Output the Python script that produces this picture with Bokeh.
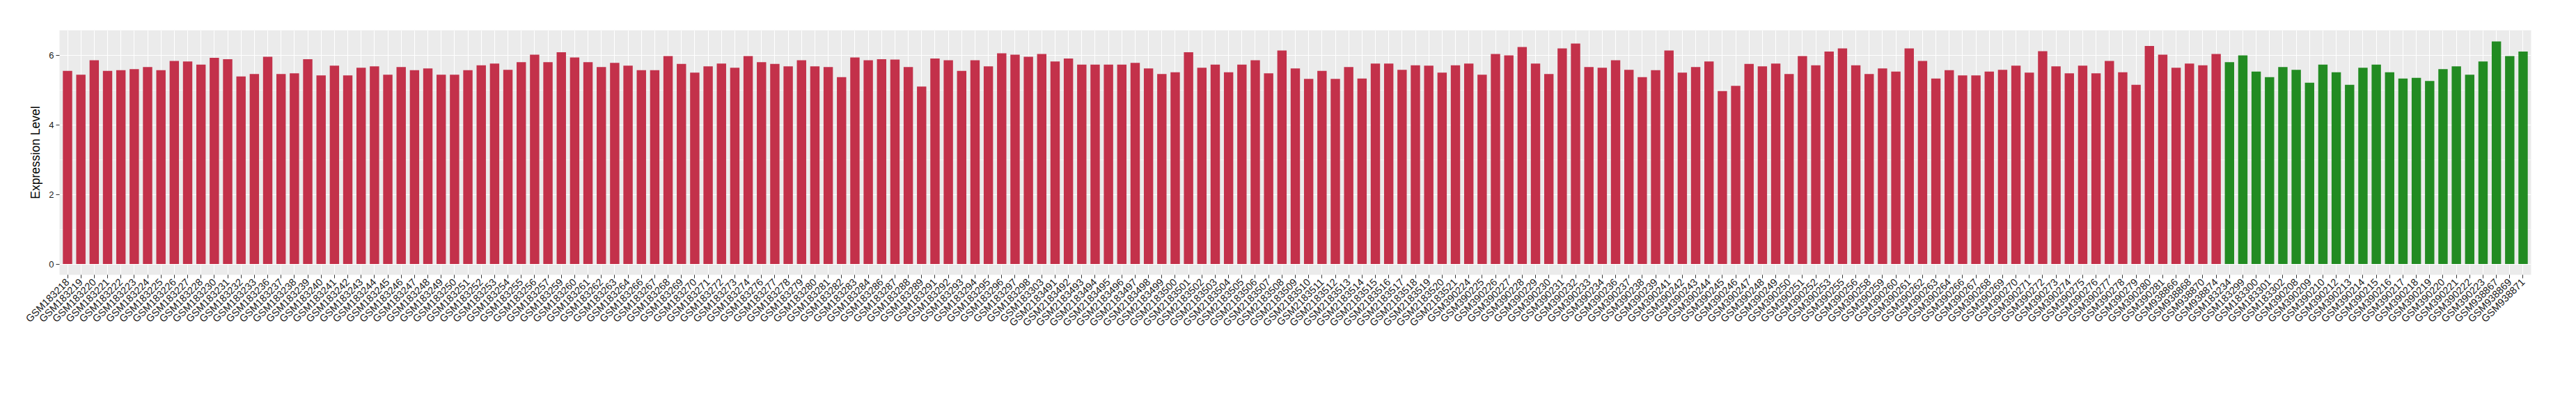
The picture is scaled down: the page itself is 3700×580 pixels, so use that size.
import math
from bokeh.plotting import figure
from bokeh.models import ColumnDataSource, FactorRange, Range1d, SingleIntervalTicker
from bokeh.embed import file_html
from bokeh.resources import INLINE

# ---- data ----
group1_samples = [
    "GSM183218", "GSM183219", "GSM183220", "GSM183221", "GSM183222", "GSM183223", "GSM183224", "GSM183225",
    "GSM183226", "GSM183227", "GSM183228", "GSM183230", "GSM183231", "GSM183232", "GSM183233",
    "GSM183236", "GSM183237", "GSM183238", "GSM183239", "GSM183240", "GSM183241", "GSM183242", "GSM183243",
    "GSM183244", "GSM183245", "GSM183246", "GSM183247", "GSM183248", "GSM183249", "GSM183250",
    "GSM183251", "GSM183252", "GSM183253", "GSM183254", "GSM183255", "GSM183256", "GSM183257", "GSM183259",
    "GSM183260", "GSM183261", "GSM183262", "GSM183263", "GSM183264", "GSM183266", "GSM183267",
    "GSM183268", "GSM183269", "GSM183270", "GSM183271", "GSM183272", "GSM183273", "GSM183274", "GSM183276",
    "GSM183277", "GSM183278", "GSM183279", "GSM183280", "GSM183281", "GSM183282", "GSM183283",
    "GSM183284", "GSM183286", "GSM183287", "GSM183288", "GSM183289", "GSM183291", "GSM183292", "GSM183293",
    "GSM183294", "GSM183295", "GSM183296", "GSM183297", "GSM183298", "GSM183303", "GSM2183491",
    "GSM2183492", "GSM2183493", "GSM2183494", "GSM2183495", "GSM2183496", "GSM2183497", "GSM2183498",
    "GSM2183499", "GSM2183500", "GSM2183501", "GSM2183502", "GSM2183503", "GSM2183504", "GSM2183505",
    "GSM2183506", "GSM2183507",
    "GSM2183508", "GSM2183509", "GSM2183510", "GSM2183511", "GSM2183512", "GSM2183513", "GSM2183514",
    "GSM2183515", "GSM2183516", "GSM2183517", "GSM2183518", "GSM2183519", "GSM2183520", "GSM2183521",
    "GSM390224",
    "GSM390225", "GSM390226", "GSM390227", "GSM390228", "GSM390229", "GSM390230", "GSM390231", "GSM390232",
    "GSM390233", "GSM390234", "GSM390236", "GSM390237", "GSM390238", "GSM390239", "GSM390241",
    "GSM390242", "GSM390243", "GSM390244", "GSM390245", "GSM390246", "GSM390247", "GSM390248", "GSM390249",
    "GSM390250", "GSM390251", "GSM390252", "GSM390253", "GSM390255", "GSM390256", "GSM390258",
    "GSM390259", "GSM390260", "GSM390261", "GSM390262", "GSM390263", "GSM390264", "GSM390266", "GSM390267",
    "GSM390268", "GSM390269", "GSM390270", "GSM390271", "GSM390272", "GSM390273", "GSM390274",
    "GSM390275", "GSM390276", "GSM390277", "GSM390278", "GSM390279", "GSM390280", "GSM390281",
    "GSM938866", "GSM938868", "GSM938870", "GSM938874",
]
group1_values = [
    5.56, 5.45, 5.87, 5.56, 5.58, 5.61, 5.67, 5.58, 5.85, 5.83, 5.74, 5.94, 5.90, 5.40, 5.47,
    5.97, 5.47, 5.49, 5.90, 5.43, 5.71, 5.43, 5.65, 5.69, 5.45, 5.67, 5.58, 5.63, 5.45, 5.45,
    5.58, 5.72, 5.77, 5.59, 5.81, 6.03, 5.81, 6.10, 5.95, 5.81, 5.67, 5.79, 5.71, 5.58, 5.58,
    5.99, 5.76, 5.51, 5.69, 5.77, 5.65, 5.99, 5.81, 5.76, 5.69, 5.87, 5.69, 5.67, 5.38, 5.95,
    5.87, 5.90, 5.89, 5.67, 5.11, 5.92, 5.87, 5.56, 5.87, 5.69, 6.07, 6.03, 5.97, 6.05, 5.83,
    5.92, 5.74, 5.74, 5.74, 5.74, 5.79, 5.63, 5.47, 5.52, 6.10, 5.65, 5.74, 5.52, 5.74, 5.87, 5.49,
    6.15, 5.63, 5.33, 5.56, 5.33, 5.67, 5.34, 5.77, 5.77, 5.59, 5.72, 5.71, 5.51, 5.72, 5.77,
    5.45, 6.05, 6.01, 6.25, 5.77, 5.47, 6.21, 6.35, 5.67, 5.65, 5.87, 5.59, 5.38, 5.58, 6.15,
    5.51, 5.67, 5.83, 4.98, 5.13, 5.76, 5.69, 5.77, 5.47, 5.99, 5.72, 6.12, 6.21, 5.72, 5.47,
    5.63, 5.54, 6.21, 5.85, 5.34, 5.58, 5.43, 5.43, 5.54, 5.59, 5.71, 5.51, 6.13, 5.69, 5.49,
    5.71, 5.49, 5.85, 5.52, 5.16, 6.28, 6.03, 5.65, 5.77, 5.72, 6.05,
]
group2_samples = [
    "GSM183234", "GSM183299", "GSM183300", "GSM183301", "GSM183302", "GSM390208", "GSM390209", "GSM390210",
    "GSM390212", "GSM390213", "GSM390214", "GSM390215", "GSM390216", "GSM390217", "GSM390218", "GSM390219",
    "GSM390220", "GSM390221", "GSM390222", "GSM390223", "GSM938867", "GSM938869", "GSM938871",
]
group2_values = [
    5.81, 6.01, 5.54, 5.38, 5.67, 5.59, 5.22, 5.74, 5.52, 5.16, 5.65, 5.74, 5.52, 5.34, 5.36, 5.27,
    5.61, 5.69, 5.45, 5.83, 6.41, 5.99, 6.12,
]
group1_color = "#C3314A"
group2_color = "#228B22"
y_label = "Expression Level"

# ---- build ----
samples = group1_samples + group2_samples
values = group1_values + group2_values
colors = [group1_color] * len(group1_samples) + [group2_color] * len(group2_samples)
source = ColumnDataSource(dict(sample=samples, value=values, color=colors))

FONT = "Liberation Sans"

p = figure(
    width=3684, height=564,
    x_range=FactorRange(factors=samples, range_padding=0.1, range_padding_units="absolute"),
    y_range=Range1d(-0.31, 6.73),
    output_backend="svg", toolbar_location=None,
    min_border_left=85, min_border_right=49, min_border_top=43, min_border_bottom=170,
)
p.background_fill_color = "#EBEBEB"
p.border_fill_color = "white"
p.outline_line_color = None

p.vbar(x="sample", top="value", bottom=0, width=0.7, source=source,
       fill_color="color", line_color=None)

# grids
p.xgrid.grid_line_color = "white"
p.xgrid.grid_line_width = 1.1
p.ygrid.grid_line_color = "white"
p.ygrid.grid_line_width = 1.1
p.ygrid.minor_grid_line_color = "white"
p.ygrid.minor_grid_line_width = 0.55

# axes
p.yaxis.ticker = SingleIntervalTicker(interval=2, num_minor_ticks=2)
for ax in (p.xaxis, p.yaxis):
    ax.axis_line_color = None
    ax.major_tick_line_color = "#333333"
    ax.major_tick_out = 5
    ax.major_tick_in = 0
    ax.minor_tick_line_color = None
    ax.major_label_text_font = FONT
    ax.major_label_text_color = "#1A1A1A"
    ax.major_label_standoff = 3

p.xaxis.major_label_text_font_size = "14.5px"
p.yaxis.major_label_text_font_size = "13px"
p.xaxis.major_label_orientation = math.pi / 4

p.yaxis.axis_label = y_label
p.yaxis.axis_label_text_font = FONT
p.yaxis.axis_label_text_font_size = "17.5px"
p.yaxis.axis_label_text_font_style = "normal"
p.yaxis.axis_label_text_color = "black"
p.yaxis.axis_label_standoff = 6

open("out.html", "w").write(file_html(p, INLINE))
